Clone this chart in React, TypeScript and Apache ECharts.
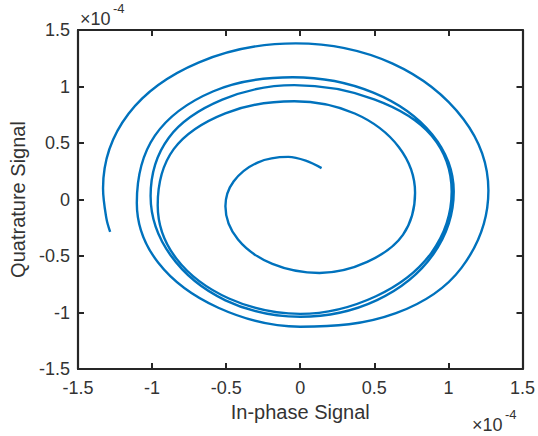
import React, { useEffect, useRef } from "react";
import * as echarts from "echarts";

// Values in units of 1e-4 (as shown by the axes' ×10^-4 multipliers)
const xTicks = [-1.5, -1, -0.5, 0, 0.5, 1, 1.5];
const yTicks = [-1.5, -1, -0.5, 0, 0.5, 1, 1.5];

// Spiral traced from the inner end outward, turn by turn: [in-phase, quadrature]
const innerTurn: [number, number][] = [
  [0.144, 0.278], [0.037, 0.344], [-0.08, 0.377], [-0.288, 0.327], [-0.45, 0.159],
  [-0.505, -0.06], [-0.42, -0.355], [-0.188, -0.57], [0.13, -0.65], [0.452, -0.552],
  [0.693, -0.313], [0.775, 0.06],
];
const secondTurn: [number, number][] = [
  [0.666, 0.463], [0.368, 0.761], [-0.04, 0.87], [-0.506, 0.763], [-0.854, 0.446],
  [-0.962, -0.05], [-0.837, -0.521], [-0.481, -0.876], [0.0, -1.012], [0.511, -0.856],
  [0.885, -0.472], [1.022, 0.07],
];
const thirdTurn: [number, number][] = [
  [0.887, 0.565], [0.499, 0.887], [-0.04, 1.012], [-0.526, 0.883], [-0.887, 0.547],
  [-1.01, 0.03], [-0.875, -0.494], [-0.505, -0.892], [0.0, -1.038], [0.518, -0.89],
  [0.898, -0.485], [1.036, 0.07],
];
const fourthTurn: [number, number][] = [
  [0.891, 0.575], [0.493, 0.946], [-0.05, 1.082], [-0.586, 0.958], [-0.981, 0.565],
  [-1.103, -0.03], [-0.958, -0.56], [-0.553, -0.958], [0.0, -1.126], [0.646, -1.006],
  [1.088, -0.605], [1.27, 0.08],
];
const outerTurn: [number, number][] = [
  [1.102, 0.711], [0.62, 1.205], [-0.03, 1.382], [-0.683, 1.214], [-1.159, 0.759],
  [-1.331, 0.1], [-1.309, -0.163], [-1.283, -0.287],
];

const FONT = "Liberation Sans, Arial, sans-serif";
const AXIS_COLOR = "#262626";
const TEXT_COLOR = "#333333";

export default function App() {
  const ref = useRef<HTMLDivElement>(null);

  useEffect(() => {
    if (!ref.current) return;
    const chart = echarts.init(ref.current, null, { renderer: "svg" });
    const spiral = [...innerTurn, ...secondTurn, ...thirdTurn, ...fourthTurn, ...outerTurn];

    const baseAxis = {
      type: "value" as const,
      min: xTicks[0],
      max: xTicks[xTicks.length - 1],
      interval: 0.5,
      splitLine: { show: false },
      axisLine: { show: true, onZero: false, lineStyle: { color: AXIS_COLOR, width: 2.2 } },
      axisTick: { show: true, inside: true, length: 6, lineStyle: { color: AXIS_COLOR, width: 2 } },
    };

    chart.setOption({
      animation: false,
      backgroundColor: "#ffffff",
      grid: { left: 77, right: 13, top: 30, bottom: 67 },
      xAxis: [
        {
          ...baseAxis,
          position: "bottom",
          axisLabel: {
            show: true, fontSize: 18, color: TEXT_COLOR, fontFamily: FONT, margin: 10,
            showMinLabel: true, showMaxLabel: true,
          },
          name: "In-phase Signal",
          nameLocation: "middle",
          nameGap: 30,
          nameTextStyle: { fontSize: 20, color: TEXT_COLOR, fontFamily: FONT },
        },
        { ...baseAxis, position: "top", axisLabel: { show: false } },
      ],
      yAxis: [
        {
          ...baseAxis,
          min: yTicks[0],
          max: yTicks[yTicks.length - 1],
          position: "left",
          axisLabel: {
            show: true, fontSize: 18, color: TEXT_COLOR, fontFamily: FONT, margin: 8,
            showMinLabel: true, showMaxLabel: true,
          },
          name: "Quatrature Signal",
          nameLocation: "middle",
          nameGap: 50,
          nameTextStyle: { fontSize: 20, color: TEXT_COLOR, fontFamily: FONT },
        },
        {
          ...baseAxis,
          min: yTicks[0],
          max: yTicks[yTicks.length - 1],
          position: "right",
          axisLabel: { show: false },
        },
      ],
      graphic: [
        { type: "text", left: 80, top: 10, style: { text: "×10", fontSize: 18, fill: TEXT_COLOR, fontFamily: FONT } },
        { type: "text", left: 113, top: 2, style: { text: "-4", fontSize: 13, fill: TEXT_COLOR, fontFamily: FONT } },
        { type: "text", left: 472, top: 416, style: { text: "×10", fontSize: 18, fill: TEXT_COLOR, fontFamily: FONT } },
        { type: "text", left: 505, top: 408, style: { text: "-4", fontSize: 13, fill: TEXT_COLOR, fontFamily: FONT } },
      ],
      series: [
        {
          type: "line",
          xAxisIndex: 0,
          yAxisIndex: 0,
          data: spiral,
          showSymbol: false,
          smooth: 0.36,
          lineStyle: { color: "#0072BD", width: 2.4 },
          itemStyle: { color: "#0072BD" },
        },
      ],
    });

    return () => chart.dispose();
  }, []);

  return (
    <div
      ref={ref}
      style={{ position: "fixed", left: 0, top: 0, width: 538, height: 436, background: "#fff" }}
    />
  );
}
